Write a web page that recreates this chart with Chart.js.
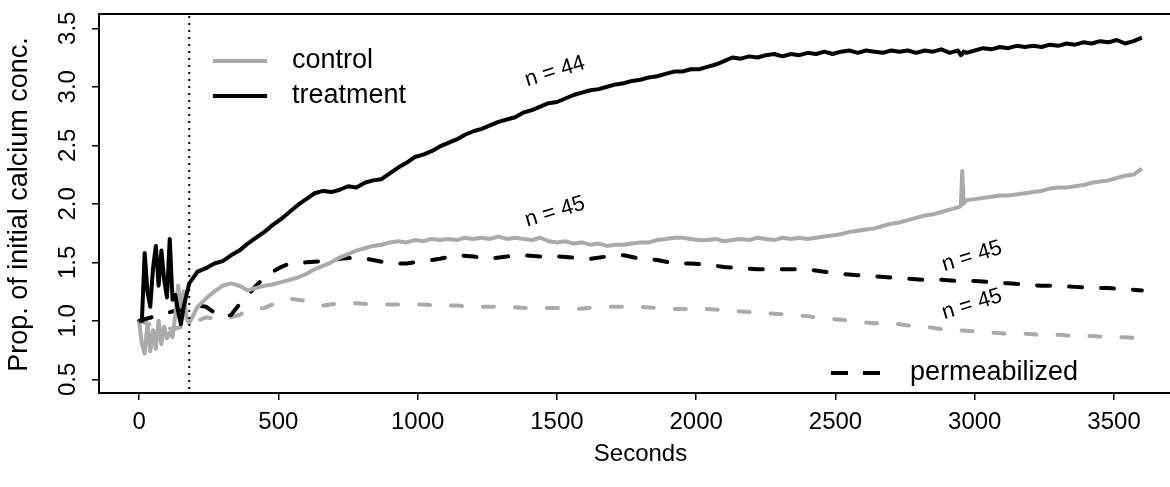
<!DOCTYPE html>
<html>
<head>
<meta charset="utf-8">
<script src="https://cdn.jsdelivr.net/npm/chart.js@4.4.1/dist/chart.umd.min.js"></script>
<style>
  html, body { margin: 0; padding: 0; background: #fff; overflow: hidden; }
  #wrap { width: 1200px; height: 487px; }
</style>
</head>
<body>
<div id="wrap"><canvas id="calciumChart" width="1200" height="487"></canvas></div>
<script>
// sampling times (s) for the intact-cell traces
const solidSeconds = [
  0, 10, 20, 30, 40, 50, 60, 70, 80, 90, 100, 110, 120, 130, 140, 150, 160, 170, 180,
  210, 240, 270, 300, 330, 360, 390, 420, 450, 480, 510, 540,
  570, 600, 630, 660, 690, 720, 750, 780, 810, 840, 870, 900,
  930, 960, 990, 1020, 1050, 1080, 1110, 1140, 1170, 1200, 1230, 1260,
  1290, 1320, 1350, 1380, 1410, 1440, 1470, 1500, 1530, 1560, 1590, 1620,
  1650, 1680, 1710, 1740, 1770, 1800, 1830, 1860, 1890, 1920, 1950, 1980,
  2010, 2040, 2070, 2100, 2130, 2160, 2190, 2220, 2250, 2280, 2310, 2340,
  2370, 2400, 2430, 2460, 2490, 2520, 2550, 2580, 2610, 2640, 2670, 2700,
  2730, 2760, 2790, 2820, 2850, 2880, 2910, 2940,
  2950, 2955, 2960, 2970,
  3000, 3030, 3060, 3090, 3120, 3150, 3180, 3210, 3240, 3270, 3300,
  3330, 3360, 3390, 3420, 3450, 3480, 3510, 3540, 3570, 3600
];

const treatmentValues = [
  1.00, 1.00, 1.58, 1.25, 1.12, 1.45, 1.64, 1.30, 1.60, 1.35, 1.20, 1.70, 1.18, 1.22, 1.08, 0.97, 1.12, 1.22, 1.32,
  1.42, 1.45, 1.49, 1.51, 1.56, 1.60, 1.66, 1.71, 1.76, 1.82, 1.87, 1.93,
  1.99, 2.04, 2.09, 2.11, 2.10, 2.12, 2.15, 2.14, 2.18, 2.20, 2.21, 2.26,
  2.31, 2.35, 2.40, 2.42, 2.45, 2.49, 2.52, 2.55, 2.59, 2.62, 2.64, 2.67,
  2.70, 2.72, 2.74, 2.78, 2.80, 2.83, 2.86, 2.87, 2.90, 2.93, 2.95, 2.97,
  2.98, 3.00, 3.02, 3.03, 3.05, 3.06, 3.08, 3.09, 3.11, 3.13, 3.13, 3.15,
  3.15, 3.17, 3.19, 3.22, 3.25, 3.24, 3.26, 3.25, 3.27, 3.28, 3.26, 3.28,
  3.27, 3.29, 3.28, 3.30, 3.28, 3.30, 3.31, 3.29, 3.31, 3.30, 3.29, 3.31,
  3.30, 3.31, 3.29, 3.31, 3.30, 3.32, 3.29, 3.31,
  3.27, 3.28, 3.30, 3.29,
  3.31, 3.33, 3.32, 3.34, 3.33, 3.35, 3.34, 3.35, 3.34, 3.36, 3.35,
  3.37, 3.36, 3.38, 3.37, 3.39, 3.38, 3.40, 3.37, 3.39, 3.42
];

const controlValues = [
  1.00, 0.80, 0.72, 0.98, 0.74, 0.92, 0.76, 1.00, 0.80, 0.95, 0.85, 0.90, 0.86, 1.05, 1.30, 1.12, 1.25, 1.02, 0.98,
  1.12, 1.19, 1.25, 1.30, 1.32, 1.30, 1.26, 1.28, 1.30, 1.31, 1.33, 1.35,
  1.37, 1.40, 1.44, 1.47, 1.50, 1.54, 1.57, 1.60, 1.62, 1.64, 1.65, 1.67,
  1.68, 1.67, 1.69, 1.68, 1.70, 1.69, 1.70, 1.69, 1.71, 1.70, 1.71, 1.70,
  1.72, 1.70, 1.71, 1.70, 1.69, 1.71, 1.68, 1.67, 1.68, 1.66, 1.67, 1.65,
  1.66, 1.64, 1.65, 1.65, 1.66, 1.67, 1.67, 1.69, 1.70, 1.71, 1.71, 1.70,
  1.69, 1.69, 1.70, 1.68, 1.69, 1.70, 1.69, 1.71, 1.70, 1.69, 1.71, 1.70,
  1.71, 1.70, 1.71, 1.72, 1.73, 1.74, 1.76, 1.77, 1.78, 1.79, 1.81, 1.83,
  1.84, 1.86, 1.88, 1.90, 1.91, 1.93, 1.95, 1.97,
  1.98, 2.28, 2.00, 2.03,
  2.04, 2.05, 2.06, 2.07, 2.07, 2.08, 2.09, 2.10, 2.11, 2.13, 2.14,
  2.14, 2.15, 2.16, 2.18, 2.19, 2.20, 2.22, 2.24, 2.25, 2.30
];

// sampling times (s) for the permeabilized traces
const permSeconds = [
  0, 60, 120, 180,
  210, 240, 270, 300, 330, 360, 390, 420, 450, 480, 510, 540,
  600, 660, 720, 780, 840, 900, 960, 1020, 1080, 1140, 1200, 1260,
  1320, 1380, 1440, 1500, 1560, 1620, 1680, 1740, 1800, 1860, 1920, 1980,
  2040, 2100, 2160, 2220, 2280, 2340, 2400, 2460, 2520, 2580, 2640, 2700,
  2760, 2820, 2880, 2940, 3000, 3060, 3120, 3180, 3240, 3300, 3360, 3420,
  3480, 3540, 3600
];

const treatmentPermValues = [
  1.00, 1.04, 1.08, 1.11,
  1.13, 1.12, 1.07, 1.03, 1.05, 1.14, 1.22, 1.30, 1.37, 1.42, 1.46, 1.49,
  1.50, 1.51, 1.53, 1.54, 1.52, 1.49, 1.49, 1.51, 1.53, 1.56, 1.55, 1.53,
  1.55, 1.56, 1.55, 1.55, 1.54, 1.53, 1.55, 1.56, 1.53, 1.52, 1.49, 1.49,
  1.48, 1.46, 1.45, 1.44, 1.44, 1.44, 1.44, 1.42, 1.40, 1.39, 1.38, 1.37,
  1.36, 1.35, 1.35, 1.34, 1.34, 1.33, 1.32, 1.31, 1.30, 1.30, 1.29, 1.28,
  1.28, 1.27, 1.26
];

const controlPermValues = [
  1.00, 0.95, 0.93, 0.96,
  1.00, 1.03, 1.02, 1.02, 1.03, 1.05, 1.09, 1.10, 1.11, 1.14, 1.17, 1.19,
  1.17, 1.13, 1.15, 1.15, 1.14, 1.14, 1.14, 1.14, 1.13, 1.13, 1.12, 1.12,
  1.12, 1.11, 1.11, 1.11, 1.10, 1.11, 1.12, 1.12, 1.12, 1.11, 1.10, 1.10,
  1.10, 1.09, 1.08, 1.07, 1.06, 1.05, 1.04, 1.02, 1.01, 0.99, 0.98, 0.98,
  0.96, 0.95, 0.93, 0.92, 0.91, 0.90, 0.89, 0.89, 0.88, 0.88, 0.87, 0.87,
  0.86, 0.86, 0.85
];

const xTicks = [0, 500, 1000, 1500, 2000, 2500, 3000, 3500];
const yTicks = [0.5, 1.0, 1.5, 2.0, 2.5, 3.0, 3.5];
const yTickLabels = ["0.5", "1.0", "1.5", "2.0", "2.5", "3.0", "3.5"];
const yTitle = "Prop. of initial calcium conc.";

const sampleSizes = ["n = 44", "n = 45", "n = 45", "n = 45"];
const sampleLabelSeconds = [1493, 1493, 2990, 2990];
const sampleLabelValues = [3.13, 1.93, 1.55, 1.14];

const stimulusSecond = 180;
const legendNames = ["control", "treatment"];
const permLegendName = "permeabilized";

const GREY = "#aaaaaa";
const FONT = '"Liberation Sans", Arial, Helvetica, sans-serif';

function pairs(xs, ys) {
  return xs.map((x, i) => ({ x: x, y: ys[i] }));
}

// frame, stimulus marker, rotated y labels, n labels and the legends
const extrasPlugin = {
  id: "extras",
  afterDatasetsDraw(chart) {
    const { ctx, chartArea: a } = chart;
    const xs = chart.scales.x, ys = chart.scales.y;
    ctx.save();

    const sx = xs.getPixelForValue(stimulusSecond);
    ctx.strokeStyle = "#000";
    ctx.lineWidth = 2;
    ctx.setLineDash([2, 5]);
    ctx.beginPath();
    ctx.moveTo(sx, a.top + 2);
    ctx.lineTo(sx, a.bottom - 2);
    ctx.stroke();
    ctx.setLineDash([]);

    ctx.lineWidth = 2;
    ctx.strokeRect(a.left, a.top, a.right - a.left, a.bottom - a.top);

    ctx.fillStyle = "#000";
    ctx.textAlign = "center";
    ctx.textBaseline = "middle";
    ctx.font = "24px " + FONT;
    yTicks.forEach((v, i) => {
      ctx.save();
      ctx.translate(68, ys.getPixelForValue(v));
      ctx.rotate(-Math.PI / 2);
      ctx.fillText(yTickLabels[i], 0, 0);
      ctx.restore();
    });

    ctx.save();
    ctx.font = "27px " + FONT;
    ctx.translate(20, (a.top + a.bottom) / 2 + 1);
    ctx.rotate(-Math.PI / 2);
    ctx.fillText(yTitle, 0, 0);
    ctx.restore();

    ctx.font = "22px " + FONT;
    sampleSizes.forEach((t, i) => {
      ctx.save();
      ctx.translate(xs.getPixelForValue(sampleLabelSeconds[i]), ys.getPixelForValue(sampleLabelValues[i]));
      ctx.rotate(-17 * Math.PI / 180);
      ctx.fillText(t, 0, 0);
      ctx.restore();
    });

    // top-left legend
    ctx.font = "27px " + FONT;
    ctx.textAlign = "left";
    ctx.lineWidth = 4;
    ctx.lineCap = "butt";
    [GREY, "#000"].forEach((c, i) => {
      const ly = 61 + i * 35;
      ctx.strokeStyle = c;
      ctx.beginPath();
      ctx.moveTo(213, ly);
      ctx.lineTo(267, ly);
      ctx.stroke();
      ctx.fillText(legendNames[i], 292, ly);
    });

    // bottom-right legend
    ctx.strokeStyle = "#000";
    ctx.setLineDash([17, 15]);
    ctx.beginPath();
    ctx.moveTo(831, 373);
    ctx.lineTo(880, 373);
    ctx.stroke();
    ctx.setLineDash([]);
    ctx.fillText(permLegendName, 910, 373);

    ctx.restore();
  }
};

new Chart(document.getElementById("calciumChart"), {
  type: "line",
  data: {
    datasets: [
      {
        label: "treatment",
        data: pairs(solidSeconds, treatmentValues),
        borderColor: "#000",
        borderWidth: 4
      },
      {
        label: "control",
        data: pairs(solidSeconds, controlValues),
        borderColor: GREY,
        borderWidth: 4
      },
      {
        label: "treatment permeabilized",
        data: pairs(permSeconds, treatmentPermValues),
        borderColor: "#000",
        borderWidth: 4,
        borderDash: [13, 19],
        borderCapStyle: "round"
      },
      {
        label: "control permeabilized",
        data: pairs(permSeconds, controlPermValues),
        borderColor: GREY,
        borderWidth: 4,
        borderDash: [11, 21],
        borderCapStyle: "round"
      }
    ]
  },
  options: {
    responsive: false,
    animation: false,
    devicePixelRatio: 1,
    layout: { padding: { left: 0, right: 18, top: 14, bottom: 0 } },
    elements: {
      point: { radius: 0 },
      line: { tension: 0, borderJoinStyle: "round", fill: false }
    },
    plugins: {
      legend: { display: false },
      tooltip: { enabled: false }
    },
    scales: {
      x: {
        type: "linear",
        min: -144,
        max: 3744,
        afterBuildTicks: s => { s.ticks = xTicks.map(v => ({ value: v })); },
        afterFit: s => { s.height = 94; },
        border: { display: false },
        grid: { drawOnChartArea: false, drawTicks: true, tickLength: 7, color: "#000", lineWidth: 1.5 },
        ticks: {
          color: "#000",
          font: { family: FONT, size: 24 },
          padding: 8,
          maxRotation: 0,
          autoSkip: false,
          callback: v => String(v)
        },
        title: {
          display: true,
          text: "Seconds",
          color: "#000",
          font: { family: FONT, size: 24 },
          padding: { top: 0, bottom: 18 }
        }
      },
      y: {
        type: "linear",
        min: 0.383,
        max: 3.622,
        afterBuildTicks: s => { s.ticks = yTicks.map(v => ({ value: v })); },
        afterFit: s => { s.width = 99; },
        border: { display: false },
        grid: { drawOnChartArea: false, drawTicks: true, tickLength: 7, color: "#000", lineWidth: 1.5 },
        ticks: { display: false }
      }
    }
  },
  plugins: [extrasPlugin]
});
</script>
</body>
</html>
